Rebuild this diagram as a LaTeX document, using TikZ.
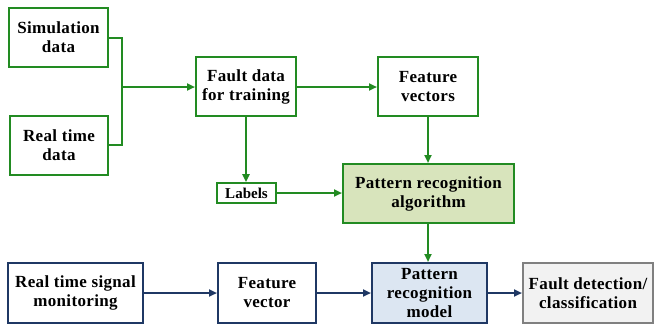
\documentclass[tikz,border=0pt]{standalone}
\usepackage{fontspec}
\setmainfont{Liberation Serif}[LetterSpace=2]
\usetikzlibrary{arrows.meta}
\definecolor{grn}{RGB}{34,139,34}
\definecolor{grnfill}{RGB}{216,228,188}
\definecolor{navy}{RGB}{31,56,100}
\definecolor{bluefill}{RGB}{220,230,242}
\definecolor{gryline}{RGB}{128,128,128}
\definecolor{gryfill}{RGB}{242,242,242}
\tikzset{
  box/.style={draw, line width=2pt, inner sep=0pt, align=center,
    font=\fontsize{17}{19}\selectfont\bfseries},
  gbox/.style={box, draw=grn},
  bbox/.style={box, draw=navy},
  garrow/.style={draw=grn, line width=2pt, -{Triangle[length=8pt,width=7pt]}},
  gline/.style={draw=grn, line width=2pt},
  barrow/.style={draw=navy, line width=2pt, -{Triangle[length=8pt,width=7pt]}},
}
\begin{document}
\begin{tikzpicture}[x=1pt, y=-1pt]
\useasboundingbox (0,0) rectangle (656,327);
% training branch
\node[gbox, minimum width=99pt, minimum height=59pt] (sim) at (58.5,37.5) {Simulation\\data};
\node[gbox, minimum width=98pt, minimum height=59pt] (rtd) at (59,145.5) {Real time\\data};
\node[gbox, minimum width=100pt, minimum height=59pt] (fdt) at (246,86.5) {Fault data\\for training};
\node[gbox, minimum width=100pt, minimum height=59pt] (fvs) at (428,86.5) {Feature\\vectors};
\node[gbox, minimum width=59pt, minimum height=20pt, line width=1.6pt,
  font=\fontsize{15}{17}\selectfont\bfseries\addfontfeature{LetterSpace=0}] (lab) at (246.5,193) {Labels};
\node[gbox, fill=grnfill, minimum width=171pt, minimum height=59pt] (pra) at (428.5,193.5) {Pattern recognition\\algorithm};
% monitoring branch
\node[bbox, minimum width=135pt, minimum height=60pt] (rts) at (75.5,293) {Real time signal\\monitoring};
\node[bbox, minimum width=98pt, minimum height=60pt] (fv) at (267,293) {Feature\\vector};
\node[bbox, fill=bluefill, minimum width=115pt, minimum height=60pt] (prm) at (429.5,293) {Pattern\\recognition\\model};
\node[box, draw=gryline, fill=gryfill, minimum width=130pt, minimum height=60pt] (fdc) at (588,293) {Fault detection/\\classification};
% connectors
\coordinate (j) at (122,87);
\coordinate (ja) at (122,38);
\coordinate (jb) at (122,145);
\draw[gline] (sim.east |- ja) -- (ja) -- (jb) -- (rtd.east |- jb);
\draw[garrow] (j) -- (fdt.west |- j);
\draw[garrow] (fdt.east |- j) -- (fvs.west |- j);
\draw[garrow] (fdt.south) -- (lab.north -| fdt.south);
\draw[garrow] (lab.east) -- (pra.west |- lab.east);
\draw[garrow] (fvs.south) -- (pra.north -| fvs.south);
\draw[garrow] (pra.south -| fvs.south) -- (prm.north -| fvs.south);
\draw[barrow] (rts.east) -- (fv.west);
\draw[barrow] (fv.east) -- (prm.west);
\draw[barrow] (prm.east) -- (fdc.west);
\end{tikzpicture}
\end{document}
